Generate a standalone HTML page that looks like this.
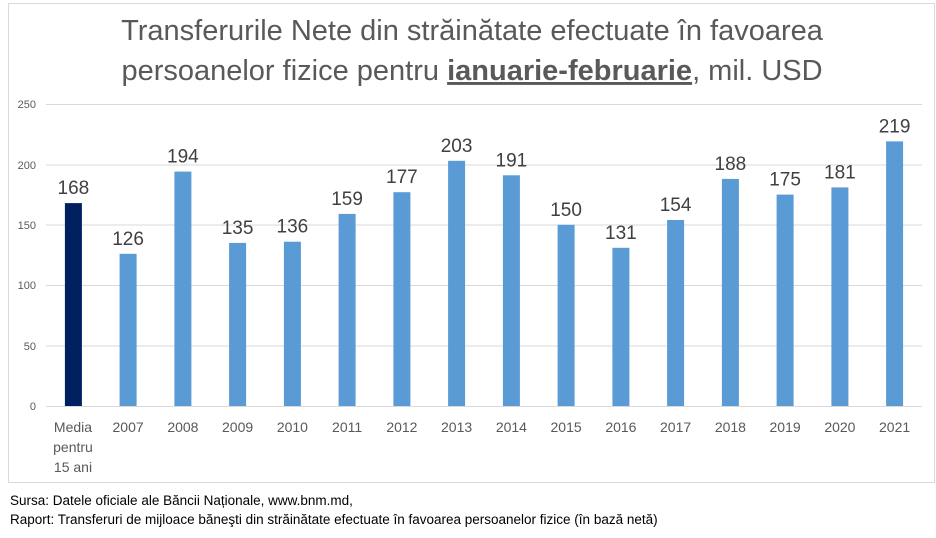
<!DOCTYPE html>
<html><head><meta charset="utf-8"><style>
body{margin:0;background:#fff;width:936px;height:533px;overflow:hidden;font-family:"Liberation Sans",sans-serif}
</style></head><body>
<svg width="936" height="533" xmlns="http://www.w3.org/2000/svg" font-family="Liberation Sans, sans-serif">
<rect x="8.5" y="3.5" width="926" height="479" fill="#fff" stroke="#d9d9d9"/>
<text x="472" y="40" text-anchor="middle" font-size="29" fill="#595959">Transferurile Nete din străinătate efectuate în favoarea</text>
<text x="472" y="80" text-anchor="middle" font-size="29" fill="#595959">persoanelor fizice pentru <tspan font-weight="bold" text-decoration="underline">ianuarie-februarie</tspan>, mil. USD</text>
<g stroke="#d9d9d9" stroke-width="1">
<line x1="46" x2="922" y1="104.5" y2="104.5"/><line x1="46" x2="922" y1="165" y2="165"/><line x1="46" x2="922" y1="225" y2="225"/><line x1="46" x2="922" y1="285.5" y2="285.5"/><line x1="46" x2="922" y1="346" y2="346"/><line x1="46" x2="922" y1="406.5" y2="406.5"/>
</g>
<g font-size="11" fill="#595959" text-anchor="end">
<text x="36" y="108">250</text><text x="36" y="169">200</text><text x="36" y="229">150</text><text x="36" y="289">100</text><text x="36" y="350">50</text><text x="36" y="410">0</text>
</g>
<rect x="64.9" y="203.1" width="17" height="202.9" fill="#002060"/>
<g fill="#5b9bd5">
<rect x="119.6" y="253.8" width="17" height="152.2"/>
<rect x="174.4" y="171.6" width="17" height="234.4"/>
<rect x="229.1" y="242.9" width="17" height="163.1"/>
<rect x="283.9" y="241.7" width="17" height="164.3"/>
<rect x="338.6" y="213.9" width="17" height="192.1"/>
<rect x="393.4" y="192.2" width="17" height="213.8"/>
<rect x="448.1" y="160.8" width="17" height="245.2"/>
<rect x="502.9" y="175.3" width="17" height="230.7"/>
<rect x="557.6" y="224.8" width="17" height="181.2"/>
<rect x="612.4" y="247.8" width="17" height="158.2"/>
<rect x="667.1" y="220.0" width="17" height="186.0"/>
<rect x="721.9" y="178.9" width="17" height="227.1"/>
<rect x="776.6" y="194.6" width="17" height="211.4"/>
<rect x="831.4" y="187.4" width="17" height="218.6"/>
<rect x="886.1" y="141.4" width="17" height="264.6"/>
</g>
<g font-size="19" fill="#404040" text-anchor="middle">
<text x="73.4" y="194">168</text>
<text x="128.1" y="245">126</text>
<text x="182.9" y="162.6">194</text>
<text x="237.6" y="234">135</text>
<text x="292.4" y="232.7">136</text>
<text x="347.1" y="205">159</text>
<text x="401.9" y="183.2">177</text>
<text x="456.6" y="151.8">203</text>
<text x="511.4" y="166.3">191</text>
<text x="566.1" y="215.8">150</text>
<text x="620.9" y="238.8">131</text>
<text x="675.6" y="211">154</text>
<text x="730.4" y="170">188</text>
<text x="785.1" y="185.6">175</text>
<text x="839.9" y="178.4">181</text>
<text x="894.6" y="132.4">219</text>
</g>
<g font-size="14" fill="#595959" text-anchor="middle">
<text x="73" y="432">Media</text><text x="73" y="452">pentru</text><text x="73" y="472">15 ani</text>
<text x="128.1" y="432">2007</text><text x="182.9" y="432">2008</text><text x="237.6" y="432">2009</text><text x="292.4" y="432">2010</text><text x="347.1" y="432">2011</text><text x="401.9" y="432">2012</text><text x="456.6" y="432">2013</text><text x="511.4" y="432">2014</text><text x="566.1" y="432">2015</text><text x="620.9" y="432">2016</text><text x="675.6" y="432">2017</text><text x="730.4" y="432">2018</text><text x="785.1" y="432">2019</text><text x="839.9" y="432">2020</text><text x="894.6" y="432">2021</text>
</g>
<text x="10" y="505" font-size="13.5" fill="#000">Sursa: Datele oficiale ale Băncii Naționale, www.bnm.md,</text>
<text x="10" y="524" font-size="13.5" fill="#000">Raport: Transferuri de mijloace băneşti din străinătate efectuate în favoarea persoanelor fizice (în bază netă)</text>
</svg>
</body></html>
